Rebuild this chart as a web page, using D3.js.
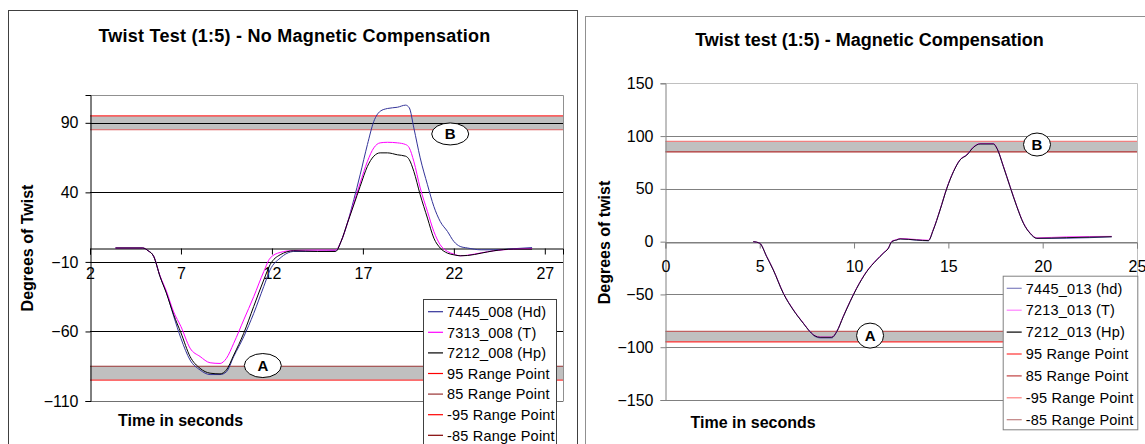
<!DOCTYPE html>
<html><head><meta charset="utf-8">
<script src="https://cdn.jsdelivr.net/npm/d3@7/dist/d3.min.js"></script>
<style>
html,body{margin:0;padding:0;background:#fff;}
svg{display:block;font-family:"Liberation Sans",Arial,sans-serif;}
</style></head>
<body><svg id="c" width="1145" height="444"></svg>
<script>
// ---------- DATA ----------
// Left chart: No Magnetic Compensation
const leftTitle = "Twist Test (1:5) - No Magnetic Compensation";
const leftYTitle = "Degrees of Twist";
const leftXTicks = [2, 7, 12, 17, 22, 27];
const leftYTicks = [-110, -60, -10, 40, 90];
const leftTime = [3.4, 4.9, 5.2, 5.5, 5.85, 6.2, 6.6, 7.0, 7.5, 8.05, 8.6, 9.15, 9.5, 9.9, 10.45, 11.0, 11.55, 11.9, 12.45, 13.2, 14.5, 15.5, 15.8, 16.15, 16.5, 16.85, 17.25, 17.6, 17.95, 18.35, 18.9, 19.35, 19.55, 19.8, 20.15, 20.55, 20.9, 21.25, 21.65, 22.0, 22.35, 22.75, 23.5, 24.2, 25.3, 26.3];
const left7445 = [0, 0, -2, -6, -20.5, -32, -49, -65, -80.5, -87.7, -91, -91, -89, -78, -63.8, -47, -27.7, -15.7, -7.3, -2.5, -2.3, -2, 4.7, 18, 34.7, 52.7, 74.4, 91, 98.3, 100.3, 101.2, 102.7, 100.8, 86.4, 64.8, 45.5, 29.9, 19.1, 11.9, 4.7, 1.1, 0, -1.3, -1.3, -0.5, 0.3];
const left7313 = [0, 0, -2, -6, -20, -31, -46, -56.5, -72, -78, -82.5, -83, -79.3, -68.5, -51.7, -35, -17, -7.3, -3.2, -1.8, -1.5, -1.5, 4.7, 17.9, 32.3, 46.7, 62.3, 72, 75.6, 76, 75.6, 74.4, 72, 62.3, 43.2, 26.3, 11.9, 2.3, -2.5, -4.4, -5.6, -5.2, -3.5, -2, -0.8, -0.5];
const left7212 = [0, 0, -2, -6, -20.5, -32.5, -48, -61, -78, -86.5, -90, -90.5, -87.7, -77, -61.3, -42, -23, -12, -4.9, -2, -2.5, -2.5, 4.7, 17.9, 31, 44.3, 58.7, 66, 68.4, 68.4, 67, 66, 63.5, 55.1, 38.3, 21.5, 7.1, 0, -3.7, -4.9, -5.6, -5.4, -3.7, -2, -0.8, -0.8];
const leftNames = ["7445_008 (Hd)", "7313_008 (T)", "7212_008 (Hp)"];

// Right chart: Magnetic Compensation
const rightTitle = "Twist test (1:5) - Magnetic Compensation";
const rightYTitle = "Degrees of twist";
const rightXTicks = [0, 5, 10, 15, 20, 25];
const rightYTicks = [-150, -100, -50, 0, 50, 100, 150];
const rightTime = [4.66, 5.0, 5.37, 5.72, 6.25, 6.78, 7.31, 7.67, 7.93, 8.2, 8.82, 9.08, 9.43, 9.79, 10.14, 10.67, 11.2, 11.55, 11.82, 12.0, 12.26, 12.44, 13.32, 13.94, 14.2, 14.56, 14.92, 15.27, 15.62, 15.98, 16.33, 16.68, 17.39, 17.57, 17.92, 18.27, 18.63, 18.98, 19.33, 19.69, 21.28, 23.66];
const right7445 = [0, -1.5, -14.2, -26.8, -48.9, -64.7, -77.3, -85.5, -89.8, -91.2, -91.2, -85.5, -71, -56.8, -44.2, -28.4, -17.3, -11, -6.3, 0, 1.6, 2.6, 1.4, 0.8, 11.1, 30, 50.6, 66.3, 77.4, 82.1, 89.4, 92.6, 92.6, 88.5, 71, 52.1, 33.2, 17.4, 8, 3.0, 3.2, 4.6];
const right7213 = [0, -1.5, -14.0, -26.5, -48.5, -64.3, -77.0, -85.0, -89.0, -90.3, -90.3, -85.0, -70.6, -56.4, -43.8, -28.0, -17.0, -10.6, -5.9, 0.4, 2.0, 3.0, 2.0, 1.4, 11.5, 30.4, 51.0, 66.7, 77.8, 82.5, 89.8, 93.0, 93.0, 88.9, 71.4, 52.5, 33.6, 17.8, 8.4, 3.6, 4.6, 5.0];
const right7212 = [0, -1.5, -14.2, -26.8, -48.9, -64.7, -77.3, -85.3, -89.3, -90.6, -90.6, -85.3, -71, -56.8, -44.2, -28.4, -17.3, -11, -6.3, 0, 1.6, 2.6, 1.6, 1, 11.1, 30, 50.6, 66.3, 77.4, 82.1, 89.4, 92.6, 92.6, 88.5, 71, 52.1, 33.2, 17.4, 8, 3.2, 3.8, 4.7];
const rightNames = ["7445_013 (hd)", "7213_013 (T)", "7212_013 (Hp)"];

const rangeNames = ["95 Range Point", "85 Range Point", "-95 Range Point", "-85 Range Point"];
const rangeLevels = [95, 85, -95, -85];
const xTitle = "Time in seconds";

// ---------- DRAW ----------
const svg = d3.select("#c");

function drawChart(cfg) {
  const g = svg.append("g");
  g.append("rect").attr("x", cfg.frame.x + 0.5).attr("y", cfg.frame.y + 0.5)
    .attr("width", cfg.frame.w).attr("height", cfg.frame.h)
    .attr("fill", "#fff").attr("stroke", cfg.frameColor).attr("stroke-width", 1);

  const x = d3.scaleLinear().domain(cfg.xDomain).range([cfg.plot.x0, cfg.plot.x1]);
  const y = d3.scaleLinear().domain(cfg.yDomain).range([cfg.plot.y1, cfg.plot.y0]);

  g.append("text").attr("x", cfg.titlePos[0]).attr("y", cfg.titlePos[1]).attr("dy", "0.35em")
    .attr("text-anchor", "middle").attr("font-size", 18).attr("font-weight", "bold")
    .attr("letter-spacing", cfg.titleSpacing).text(cfg.title);

  [[85, 95], [-95, -85]].forEach(([a, b]) => {
    g.append("rect").attr("x", x(cfg.xDomain[0])).attr("y", y(b))
      .attr("width", x(cfg.xDomain[1]) - x(cfg.xDomain[0])).attr("height", y(a) - y(b))
      .attr("fill", "#c0c0c0");
  });

  g.append("g").selectAll("line").data(cfg.yTicks).join("line")
    .attr("x1", x(cfg.xDomain[0])).attr("x2", x(cfg.xDomain[1]))
    .attr("y1", d => Math.round(y(d)) + 0.5).attr("y2", d => Math.round(y(d)) + 0.5)
    .attr("stroke", d => d === cfg.yDomain[1] ? cfg.borderColor : cfg.gridColor)
    .attr("stroke-width", 1);

  g.append("path")
    .attr("d", `M${x(cfg.xDomain[0])},${Math.round(y(cfg.yDomain[1])) + 0.5}H${Math.round(x(cfg.xDomain[1])) + 0.5}V${Math.round(y(cfg.yDomain[0])) + 0.5}`)
    .attr("fill", "none").attr("stroke", cfg.borderColor);
  if (cfg.bottomColor) {
    g.append("line").attr("x1", x(cfg.xDomain[0])).attr("x2", x(cfg.xDomain[1]))
      .attr("y1", Math.round(y(cfg.yDomain[0])) + 0.5).attr("y2", Math.round(y(cfg.yDomain[0])) + 0.5)
      .attr("stroke", cfg.bottomColor);
  }

  rangeLevels.forEach((lv, i) => {
    g.append("line").attr("x1", x(cfg.xDomain[0])).attr("x2", x(cfg.xDomain[1]))
      .attr("y1", y(lv)).attr("y2", y(lv))
      .attr("stroke", cfg.bandLineColors[i]).attr("stroke-width", 1.2);
  });

  const yAxis = d3.axisLeft(y).tickValues(cfg.yTicks).tickSize(5).tickPadding(7).tickFormat(d3.format("d"));
  const ya = g.append("g").attr("transform", `translate(${Math.round(x(cfg.xDomain[0])) + 0.5},0)`).call(yAxis);
  ya.select(".domain").attr("stroke", cfg.axisColor);
  ya.selectAll(".tick line").attr("stroke", cfg.axisColor);
  ya.selectAll("text").attr("font-size", 16).attr("font-family", "Liberation Sans, Arial, sans-serif").attr("fill", "#000");

  const xAxis = d3.axisBottom(x).tickValues(cfg.xTicks).tickSize(6).tickFormat(d3.format("d"));
  const xa = g.append("g").attr("transform", `translate(0,${Math.round(y(0)) + 0.5})`).call(xAxis);
  xa.select(".domain").attr("stroke", cfg.axisColor);
  xa.selectAll(".tick line").attr("stroke", cfg.axisColor);
  xa.selectAll("text").attr("font-size", 16).attr("font-family", "Liberation Sans, Arial, sans-serif")
    .attr("fill", "#000").attr("y", cfg.xLabelY - Math.round(y(0))).attr("dy", "0.35em");

  const line = d3.line().x(d => x(d[0])).y(d => y(d[1])).curve(d3.curveMonotoneX);
  cfg.series.forEach(s => {
    g.append("path").datum(cfg.time.map((t, i) => [t, s.values[i]]))
      .attr("d", line).attr("fill", "none").attr("stroke", s.color).attr("stroke-width", s.width || 1);
  });

  cfg.marks.forEach(m => {
    g.append("ellipse").attr("cx", x(m.t)).attr("cy", y(m.v)).attr("rx", m.rx).attr("ry", m.ry)
      .attr("fill", "#fff").attr("stroke", "#000").attr("stroke-width", 1);
    g.append("text").attr("x", x(m.t)).attr("y", y(m.v)).attr("dy", "0.36em").attr("text-anchor", "middle")
      .attr("font-size", 15).attr("font-weight", "bold").text(m.label);
  });

  g.append("text").attr("transform", `translate(${cfg.yTitlePos[0]},${cfg.yTitlePos[1]}) rotate(-90)`)
    .attr("dy", "0.35em").attr("text-anchor", "middle").attr("font-size", 16).attr("font-weight", "bold").text(cfg.yTitle);
  g.append("text").attr("x", cfg.xTitlePos[0]).attr("y", cfg.xTitlePos[1]).attr("dy", "0.35em")
    .attr("font-size", 16).attr("font-weight", "bold").text(xTitle);

  const L = cfg.legend;
  const lg = g.append("g");
  lg.append("rect").attr("x", L.x + 0.5).attr("y", L.y + 0.5).attr("width", L.w).attr("height", L.h)
    .attr("fill", "#fff").attr("stroke", L.stroke);
  const items = cfg.series.map(s => ({ name: s.name, color: s.legendColor || s.color }))
    .concat(rangeNames.map((n, i) => ({ name: n, color: cfg.legendRangeColors[i] })));
  items.forEach((it, i) => {
    const yy = L.y0 + i * L.dy;
    lg.append("line").attr("x1", L.lx0).attr("x2", L.lx1).attr("y1", yy).attr("y2", yy)
      .attr("stroke", it.color).attr("stroke-width", 1.2);
    lg.append("text").attr("x", L.tx).attr("y", yy).attr("dy", "0.36em").attr("font-size", 14.5)
      .attr("letter-spacing", 0.2).text(it.name);
  });
}

drawChart({
  frame: { x: 8, y: 10, w: 569, h: 460 }, frameColor: "#404040",
  plot: { x0: 90, x1: 563, y0: 95, y1: 401 },
  xDomain: [2, 28], yDomain: [-110, 110],
  xTicks: leftXTicks, yTicks: leftYTicks,
  title: leftTitle, titlePos: [294.5, 36], titleSpacing: 0.25,
  gridColor: "#000", borderColor: "#909090", bottomColor: "#707070", axisColor: "#000",
  bandLineColors: ["#ff3030", "#e06060", "#ff4040", "#993333"],
  xLabelY: 273,
  time: leftTime,
  series: [
    { name: leftNames[0], values: left7445, color: "#333399" },
    { name: leftNames[1], values: left7313, color: "#ff00ff" },
    { name: leftNames[2], values: left7212, color: "#000000" }
  ],
  marks: [{ label: "B", t: 21.8, v: 82, rx: 18.5, ry: 11 }, { label: "A", t: 11.5, v: -84.5, rx: 18.5, ry: 12 }],
  yTitle: leftYTitle, yTitlePos: [27, 248], xTitlePos: [118, 420],
  legend: { x: 423, y: 299, w: 133, h: 170, stroke: "#404040", y0: 311.7, dy: 20.6, lx0: 428, lx1: 443, tx: 447 },
  legendRangeColors: ["#ff0000", "#993333", "#ff0000", "#800000"]
});

drawChart({
  frame: { x: 585, y: 16, w: 600, h: 460 }, frameColor: "#909090",
  plot: { x0: 665.4, x1: 1137, y0: 83.3, y1: 400 },
  xDomain: [0, 25], yDomain: [-150, 150],
  xTicks: rightXTicks, yTicks: rightYTicks,
  title: rightTitle, titlePos: [869.5, 40], titleSpacing: 0,
  gridColor: "#808080", borderColor: "#c0c0c0", bottomColor: null, axisColor: "#808080",
  bandLineColors: ["#f08080", "#b03030", "#ff3030", "#c06060"],
  xLabelY: 266,
  time: rightTime,
  series: [
    { name: rightNames[0], values: right7445, color: "#5050b0", legendColor: "#8080c0" },
    { name: rightNames[1], values: right7213, color: "#ff40ff", legendColor: "#ff80ff" },
    { name: rightNames[2], values: right7212, color: "#000000", width: 0.9 }
  ],
  marks: [{ label: "B", t: 19.7, v: 92, rx: 13.5, ry: 11.5 }, { label: "A", t: 10.85, v: -89, rx: 13.5, ry: 12.5 }],
  yTitle: rightYTitle, yTitlePos: [604, 242.5], xTitlePos: [690.6, 422.7],
  legend: { x: 1002.7, y: 275.7, w: 134.6, h: 153.6, stroke: "#808080", y0: 288.3, dy: 21.9, lx0: 1006.7, lx1: 1021.7, tx: 1025.7 },
  legendRangeColors: ["#ff3333", "#c04040", "#ff8080", "#c08080"]
});
</script></body></html>
